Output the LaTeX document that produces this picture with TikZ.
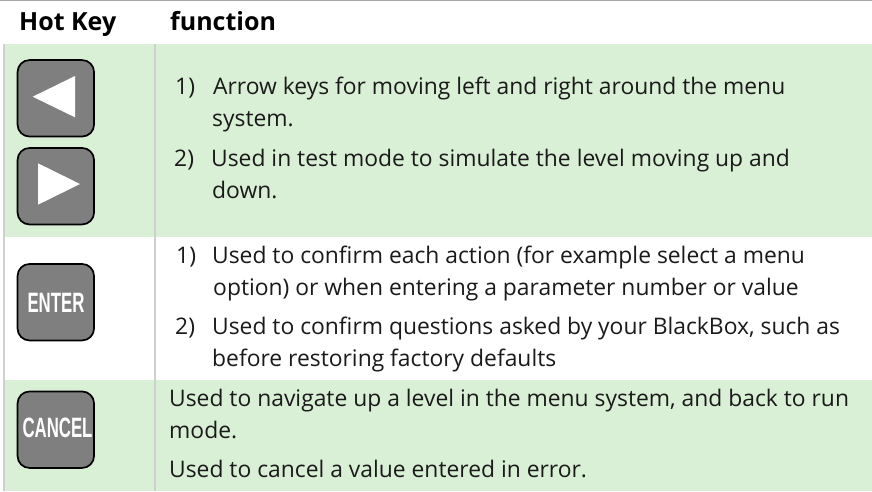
\documentclass[tikz,border=0pt]{standalone}
\usepackage{fontspec}
\setmainfont{Open Sans}
\newfontfamily\keyfont[FakeStretch=0.6]{Liberation Sans}
\definecolor{rowgreen}{HTML}{DAF0D6}
\definecolor{rulegray}{HTML}{D0D0D0}
\definecolor{topgray}{HTML}{A6A6A6}
\definecolor{keygray}{HTML}{7F7F7F}
\definecolor{inktext}{HTML}{1A1A1A}
\tikzset{
  x=1pt,y=-1pt,
  txt/.style={anchor=base west,inner sep=0pt,text=inktext,font=\fontsize{22.85}{25}\selectfont},
  hdr/.style={anchor=base west,inner sep=0pt,text=black,font=\fontsize{25}{28}\selectfont\bfseries},
  keybox/.style={draw=black,line width=1.7pt,fill=keygray,rounded corners=12pt,minimum width=76.5pt,minimum height=76.5pt,inner sep=0pt},
  tri/.style={fill=white,draw=none},
  keylabel/.style={text=white,inner sep=0pt,font=\fontsize{28}{28}\keyfont\bfseries},
}
\begin{document}
\begin{tikzpicture}
\useasboundingbox (0,0) rectangle (872,491);
\fill[white] (0,0) rectangle (872,491);
\fill[rowgreen] (4,44) rectangle (872,237);
\fill[rowgreen] (4,380) rectangle (872,491);
\draw[topgray,line width=1.5pt] (0,0.7) -- (872,0.7);
\draw[rulegray,line width=1.5pt] (4,44) -- (4,491);
\draw[rulegray,line width=1.5pt] (155,44) -- (155,491);
\node[hdr] (h1) at (19,30) {Hot Key};
\node[hdr] (h2) at (170,30) {function};
\node[keybox] (kl) at (55.8,98.3) {};
\fill[tri] (32.7,96.7) -- (75,76) -- (75,117.3) -- cycle;
\node[keybox] (kr) at (55.8,186.2) {};
\fill[tri] (80,184) -- (38,163.3) -- (38,204.7) -- cycle;
\node[keybox] (ke) at (55.8,302.2) {};
\node[keylabel] (kel) at (56,303) {ENTER};
\node[keybox] (kc) at (55.8,429.7) {};
\node[keylabel] (kcl) at (57.5,427.5) {CANCEL};
\node[txt] (a1) at (175,94) {1)};
\node[txt] (a2) at (213,94) {Arrow keys for moving left and right around the menu};
\node[txt] (a3) at (212,126) {system.};
\node[txt] (a4) at (174,166) {2)};
\node[txt] (a5) at (211,166) {Used in test mode to simulate the level moving up and};
\node[txt] (a6) at (212,198) {down.};
\node[txt] (b1) at (176,263) {1)};
\node[txt] (b2) at (212,263) {Used to confirm each action (for example select a menu};
\node[txt] (b3) at (213,295) {option) or when entering a parameter number or value};
\node[txt] (b4) at (175,334) {2)};
\node[txt] (b5) at (212,334) {Used to confirm questions asked by your BlackBox, such as};
\node[txt] (b6) at (212,366) {before restoring factory defaults};
\node[txt] (c1) at (169,406) {Used to navigate up a level in the menu system, and back to run};
\node[txt] (c2) at (169,438) {mode.};
\node[txt] (c3) at (169,477) {Used to cancel a value entered in error.};
\end{tikzpicture}
\end{document}
